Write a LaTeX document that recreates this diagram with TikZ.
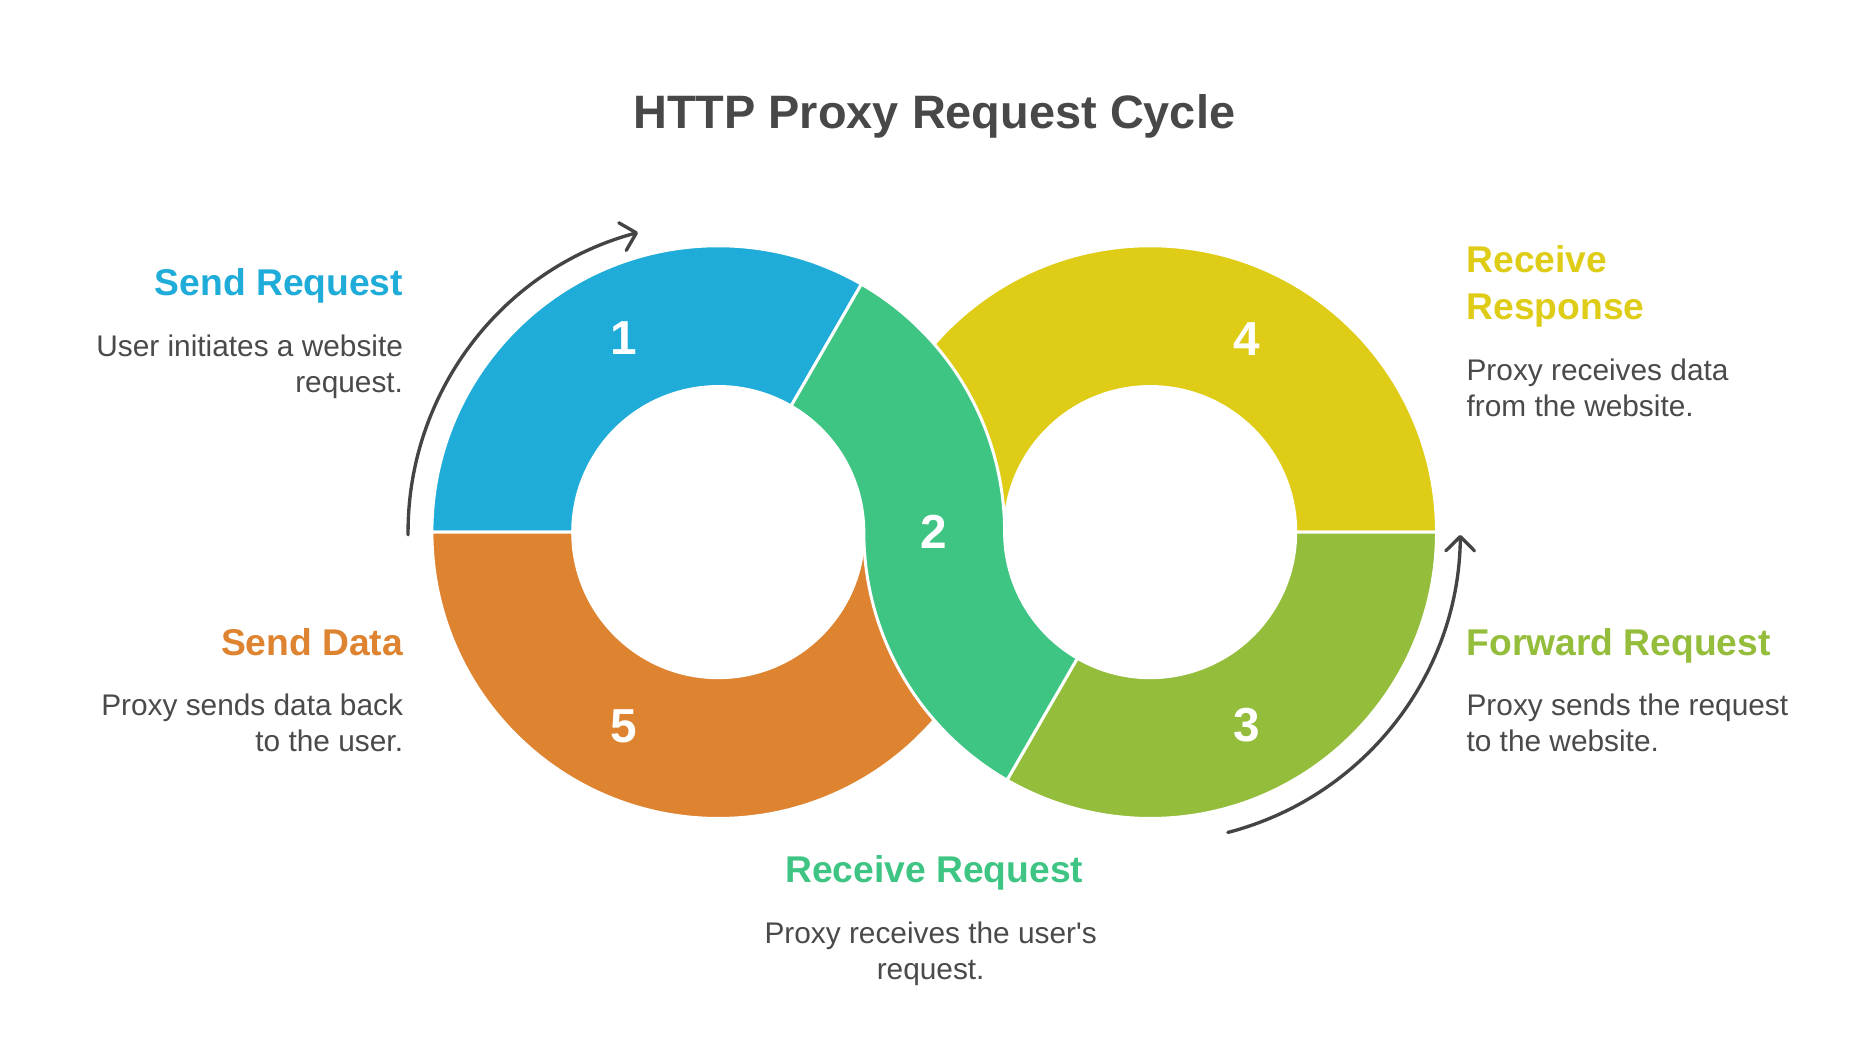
\documentclass[tikz,border=0pt]{standalone}
\usepackage{fontspec}
\setmainfont{Liberation Sans}
\usetikzlibrary{arrows.meta}
\definecolor{cblue}{HTML}{20ACD9}
\definecolor{cgreen}{HTML}{3EC584}
\definecolor{cyellow}{HTML}{DECC16}
\definecolor{colive}{HTML}{93BD3A}
\definecolor{corange}{HTML}{DE8330}
\definecolor{titlegray}{HTML}{484848}
\definecolor{textgray}{HTML}{4A4A4A}
\definecolor{arrowgray}{HTML}{444444}
\tikzset{
  seg/.style={draw=white, line width=2.5pt, line join=round},
  num/.style={text=white, font=\bfseries\fontsize{40}{40}\selectfont, inner sep=0pt},
  head/.style={font=\bfseries\fontsize{31.2}{36}\selectfont, inner sep=0pt},
  desc/.style={text=textgray, font=\fontsize{25}{30}\selectfont, inner sep=0pt},
  cyclearrow/.style={draw=arrowgray, line width=2.8pt, line cap=round,
    -{Straight Barb[length=12pt,width=24pt,round]}}
}
\begin{document}
\begin{tikzpicture}[x=1pt,y=1pt]
\useasboundingbox (0,0) rectangle (1569,882.6);
\fill[white] (0,0) rectangle (1569,882.6);
\begin{scope}[shift={(0,5.1)}]
\coordinate (L) at (602,431.5);
\coordinate (R) at (964,431.5);
\coordinate (M) at (783,431.5);

% title
\node[text=titlegray, font=\bfseries\fontsize{39.3}{46}\selectfont, inner sep=0pt, anchor=base] (title) at (783,769.5) {HTTP Proxy Request Cycle};

% segments
\path[seg, fill=cblue] ([shift={(180:240)}]L) arc[start angle=180, end angle=60, radius=240]
  -- ([shift={(60:122)}]L) arc[start angle=60, end angle=180, radius=122] -- cycle;
\path[seg, fill=corange] ([shift={(180:240)}]L) arc[start angle=180, end angle=360, radius=240]
  -- ([shift={(0:122)}]L) arc[start angle=0, end angle=-180, radius=122] -- cycle;
\path[seg, fill=cyellow] ([shift={(0:240)}]R) arc[start angle=0, end angle=180, radius=240]
  -- ([shift={(180:122)}]R) arc[start angle=180, end angle=0, radius=122] -- cycle;
\path[seg, fill=colive] ([shift={(0:240)}]R) arc[start angle=0, end angle=-120, radius=240]
  -- ([shift={(-120:122)}]R) arc[start angle=-120, end angle=0, radius=122] -- cycle;
\path[seg, fill=cgreen] ([shift={(60:240)}]L) arc[start angle=60, end angle=0, radius=240]
  -- ([shift={(180:122)}]R) arc[start angle=180, end angle=240, radius=122]
  -- ([shift={(240:240)}]R) arc[start angle=240, end angle=180, radius=240]
  -- ([shift={(0:122)}]L) arc[start angle=0, end angle=60, radius=122] -- cycle;

% numbers
\node[num] (n1) at ([shift={(116:181)}]L) {1};
\node[num] (n5) at ([shift={(244:181)}]L) {5};
\node[num] (n4) at ([shift={(63.3:181)}]R) {4};
\node[num] (n3) at ([shift={(-63.3:181)}]R) {3};
\node[num] (n2) at (M) {2};

% cycle arrows
\coordinate (a1s) at ([shift={(180.5:260)}]L);
\draw[cyclearrow] (a1s) arc[start angle=180.5, end angle=105, radius=260];
\coordinate (a2s) at ([shift={(-75.5:260)}]R);
\draw[cyclearrow] (a2s) arc[start angle=-75.5, end angle=-0.5, radius=260];

% labels left
\node[head, text=cblue, anchor=base east] (h1) at (338,629.5) {Send Request};
\node[desc, anchor=base east] (d1a) at (338,578.5) {User initiates a website};
\node[desc, anchor=base east] (d1b) at (338,548.5) {request.};
\node[head, text=corange, anchor=base east] (h5) at (338,328.5) {Send Data};
\node[desc, anchor=base east] (d5a) at (338,277.5) {Proxy sends data back};
\node[desc, anchor=base east] (d5b) at (338,247.5) {to the user.};
% labels right
\node[head, text=cyellow, anchor=base west] (h4a) at (1229,649.5) {Receive};
\node[head, text=cyellow, anchor=base west] (h4b) at (1229,609.5) {Response};
\node[desc, anchor=base west] (d4a) at (1229,558.5) {Proxy receives data};
\node[desc, anchor=base west] (d4b) at (1229,528.5) {from the website.};
\node[head, text=colive, anchor=base west] (h3) at (1229,328.5) {Forward Request};
\node[desc, anchor=base west] (d3a) at (1229,277.5) {Proxy sends the request};
\node[desc, anchor=base west] (d3b) at (1229,247.5) {to the website.};
% label bottom
\node[head, text=cgreen, anchor=base] (h2) at (783,137.5) {Receive Request};
\node[desc, anchor=base] (d2a) at (780,86.5) {Proxy receives the user\textquotesingle s};
\node[desc, anchor=base] (d2b) at (780,56.5) {request.};
\end{scope}
\end{tikzpicture}
\end{document}
